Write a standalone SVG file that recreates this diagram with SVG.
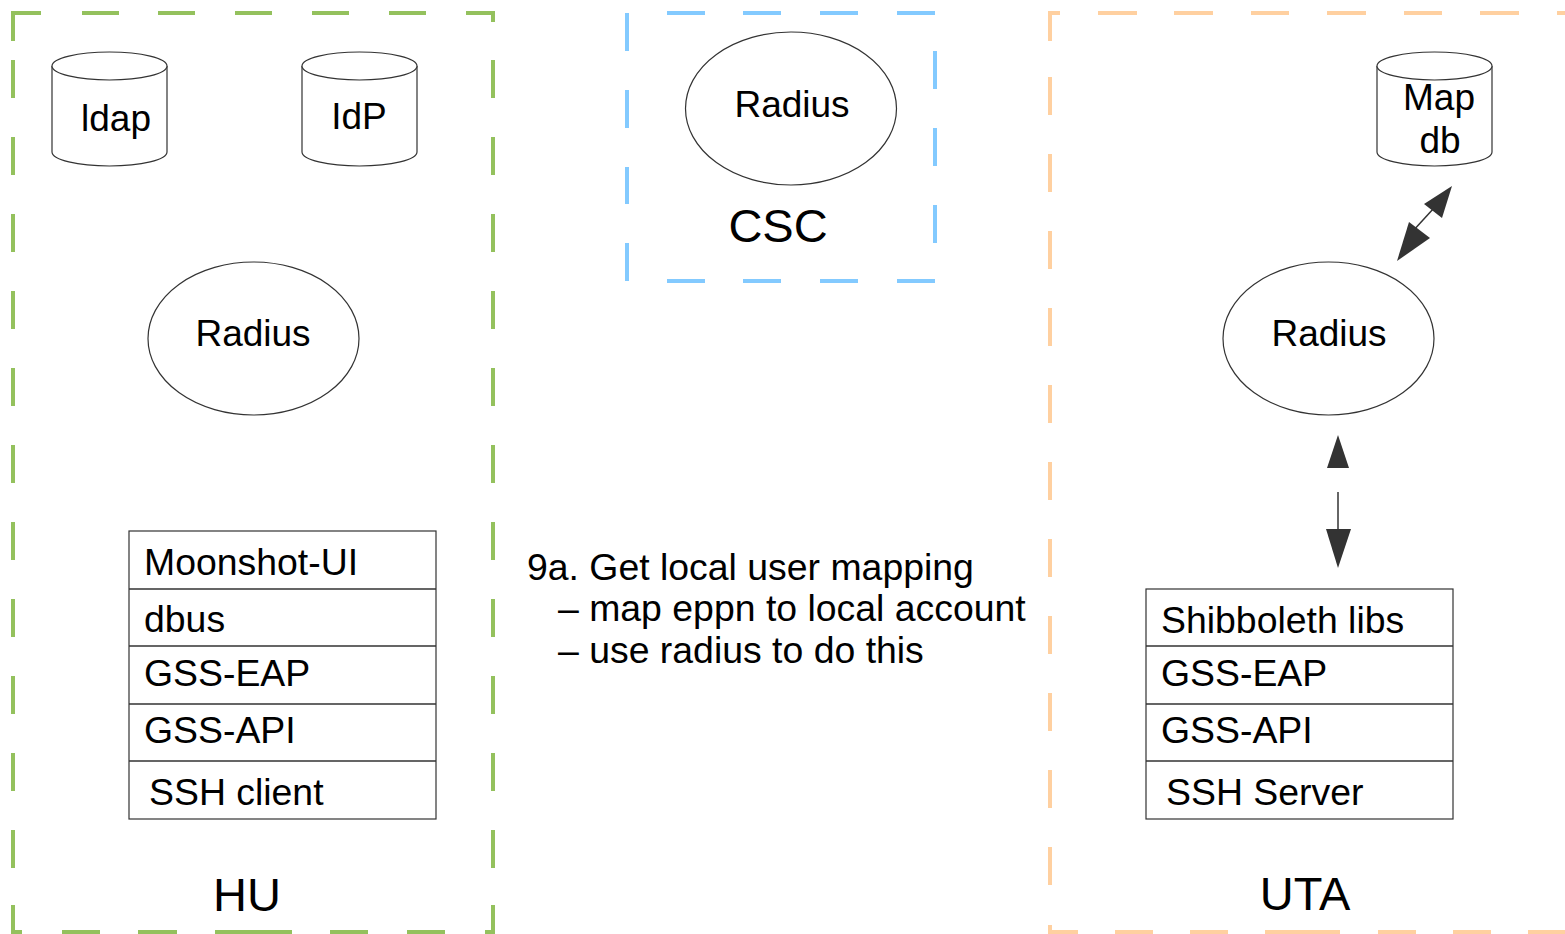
<svg xmlns="http://www.w3.org/2000/svg" width="1565" height="934" viewBox="0 0 1565 934">
<style>
text{font-family:"Liberation Sans",Arial,sans-serif;fill:#000}
.t{font-size:37.4px}
.r{font-size:37px;text-anchor:middle}
.lbl{font-size:47px;text-anchor:middle}
.shape{fill:#fff;stroke:#333;stroke-width:1.2}
.g{fill:none;stroke:#94c15d;stroke-width:4}
.b{fill:none;stroke:#83caff;stroke-width:4}
.o{fill:none;stroke:#ffd0a0;stroke-width:4}
.arr{fill:#333;stroke:none}
.ln{stroke:#333;stroke-width:1.5;fill:none}
</style>
<rect width="1565" height="934" fill="#fff"/>
<g id="HU">
<path class="g" d="M13,41V13H41M82,13H119M158,13H195M235,13H272M312,13H349M389,13H426M466,13H493V22M13,60V98M13,137V175M13,214V252M13,291V329M13,368V406M13,445V483M13,522V560M13,599V637M13,676V714M13,753V791M13,830V868M13,905V932H22M62,932H100M138,932H177M215,932H292M330,932H368M407,932H445M485,932H493V905M493,60V98M493,137V175M493,214V252M493,291V329M493,368V406M493,445V483M493,522V560M493,599V637M493,676V714M493,753V791M493,830V868"/>
<text class="lbl" x="247" y="911">HU</text>
</g>
<g id="CSC">
<path class="b" d="M667,13H705M743,13H781M820,13H858M897,13H935M627,13V51M627,90V128M627,167V204M627,243V281M935,51V89M935,128V166M935,205V243M667,281H705M743,281H781M820,281H858M897,281H935"/>
<text class="lbl" x="778" y="242">CSC</text>
</g>
<g id="UTA">
<path class="o" d="M1050,41V13H1060M1098,13H1137M1174,13H1213M1251,13H1289M1327,13H1366M1404,13H1442M1480,13H1519M1557,13H1565M1050,77V115M1050,154V192M1050,231V269M1050,308V346M1050,385V423M1050,462V500M1050,539V577M1050,616V654M1050,693V731M1050,770V808M1050,847V885M1050,925V932H1078M1115,932H1153M1190,932H1228M1265,932H1340M1378,932H1416M1453,932H1491M1528,932H1565"/>
<text class="lbl" x="1305" y="910">UTA</text>
</g>
<g id="ldap">
<path class="shape" d="M52,66V152A57.5,14 0 0 0 167,152V66"/>
<ellipse class="shape" cx="109.5" cy="66" rx="57.5" ry="14"/>
<text class="r" x="116" y="131">ldap</text>
</g>
<g id="IdP">
<path class="shape" d="M302,66V152A57.5,14 0 0 0 417,152V66"/>
<ellipse class="shape" cx="359.5" cy="66" rx="57.5" ry="14"/>
<text class="r" x="359" y="129">IdP</text>
</g>
<g id="mapdb">
<path class="shape" d="M1377,66V152A57.5,14 0 0 0 1492,152V66"/>
<ellipse class="shape" cx="1434.5" cy="66" rx="57.5" ry="14"/>
<text class="r" x="1439" y="110">Map</text>
<text class="r" x="1440" y="153">db</text>
</g>
<g id="radius-hu">
<ellipse class="shape" cx="253.5" cy="338.5" rx="105.5" ry="76.5"/>
<text class="r" x="253" y="346">Radius</text>
</g>
<g id="radius-csc">
<ellipse class="shape" cx="791" cy="108.5" rx="105.5" ry="76.5"/>
<text class="r" x="792" y="117">Radius</text>
</g>
<g id="radius-uta">
<ellipse class="shape" cx="1328.5" cy="338.5" rx="105.5" ry="76.5"/>
<text class="r" x="1329" y="346">Radius</text>
</g>
<g id="hu-stack">
<rect class="shape" x="129" y="531" width="307" height="288"/>
<path class="ln" d="M129,589H436M129,646H436M129,704H436M129,761H436"/>
<text class="t" x="144" y="575">Moonshot-UI</text>
<text class="t" x="144" y="632">dbus</text>
<text class="t" x="144" y="686">GSS-EAP</text>
<text class="t" x="144" y="743">GSS-API</text>
<text class="t" x="149" y="805">SSH client</text>
</g>
<g id="uta-stack">
<rect class="shape" x="1146" y="589" width="307" height="230"/>
<path class="ln" d="M1146,646H1453M1146,704H1453M1146,761H1453"/>
<text class="t" x="1161" y="633">Shibboleth libs</text>
<text class="t" x="1161" y="686">GSS-EAP</text>
<text class="t" x="1161" y="743">GSS-API</text>
<text class="t" x="1166" y="805">SSH Server</text>
</g>
<g id="note">
<text class="t" x="527" y="580">9a. Get local user mapping</text>
<text class="t" x="558" y="621">– map eppn to local account</text>
<text class="t" x="558" y="663">– use radius to do this</text>
</g>
<g id="connectors">
<line class="ln" x1="1412" y1="232" x2="1434" y2="208"/>
<polygon class="arr" points="1452,186 1424,204 1442,218"/>
<polygon class="arr" points="1397,261 1409,222 1430,238"/>
<polygon class="arr" points="1338,435 1327,468 1349,468"/>
<line class="ln" x1="1338" y1="492" x2="1338" y2="530"/>
<polygon class="arr" points="1326,529 1351,529 1338,568"/>
</g>
</svg>
